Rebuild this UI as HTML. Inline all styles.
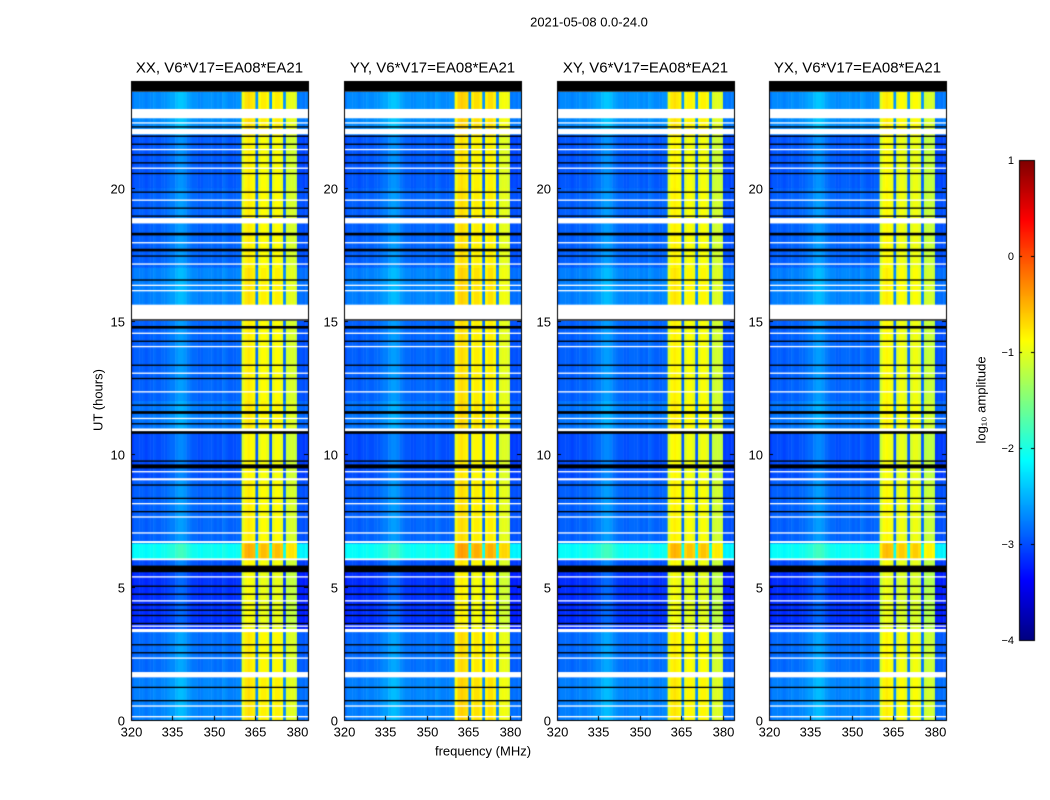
<!DOCTYPE html>
<html><head><meta charset="utf-8">
<style>
html,body{margin:0;padding:0;background:#fff;}
body{width:1050px;height:800px;position:relative;overflow:hidden;font-family:"Liberation Sans",sans-serif;}
canvas{position:absolute;left:0;top:0;}
.t{position:absolute;color:#000;white-space:nowrap;}
</style></head>
<body>
<canvas id="cv" width="1050" height="800"></canvas>
<div id="labels"></div>
<script>
// ---- data ----
const panelTitles = ["XX, V6*V17=EA08*EA21","YY, V6*V17=EA08*EA21","XY, V6*V17=EA08*EA21","YX, V6*V17=EA08*EA21"];
const panelOffsets = [0, 0.05, -0.02, -0.05];
const xTicks = [320,335,350,365,380];
const yTicks = [0,5,10,15,20];
const cbTicks = [1,0,-1,-2,-3,-4];
// log10 amplitude per 1-MHz channel, 320..383
const chanLevels = [
 -2.95,-2.85,-2.85,-2.85,-2.85,-2.9,-2.85,-2.85,-2.8,-2.85,
 -2.85,-2.8,-2.8,-2.75,-2.7,-2.7,-2.6,-2.55,-2.55,-2.6,
 -2.7,-2.75,-2.8,-2.8,-2.85,-2.85,-2.8,-2.8,-2.8,-2.8,
 -2.85,-2.8,-2.85,-2.75,-2.8,-2.85,-2.85,-2.85,-2.8,-2.8,
 -1.0,-0.8,-0.75,-0.8,-0.85,-2.8,-0.95,-0.85,-0.85,-0.95,
 -2.8,-0.95,-0.85,-0.85,-0.95,-2.8,-1.1,-1.05,-1.05,-1.1,
 -2.95,-2.9,-2.95,-2.9
];
// time segments [start h, end h, level offset]
const timeSegments = [
 [0,1.6,0.1],[1.6,3.4,0],[3.4,5.7,-0.3],[5.7,6.05,-0.15],[6.05,6.65,0.75],
 [6.65,9.0,-0.05],[9.0,10.8,-0.15],[10.8,12.0,0.05],[12.0,15.0,-0.05],
 [15.3,17.0,0.1],[17.0,20.0,-0.05],[20.0,22.0,-0.1],[22.0,23.6,0.15]
];
// flagged (white) intervals [start h, end h]
const whiteFlags = [
 [0.1,0.15],[0.5,0.55],[1.6,1.8],[2.3,2.35],[3.3,3.42],[3.5,3.55],[4.45,4.5],[5.35,5.4],
 [6.0,6.07],[6.65,6.72],[7.0,7.05],[7.6,7.65],[8.1,8.15],[9.0,9.08],[9.3,9.35],
 [10.85,10.95],[11.3,11.35],[12.3,12.35],[13.0,13.05],[14.0,14.05],[14.5,14.55],
 [15.25,15.6],[16.1,16.15],[16.3,16.35],[17.1,17.15],[17.9,17.95],[18.65,18.85],
 [19.5,19.55],[20.7,20.75],[21.4,21.45],[22.0,22.2],[22.4,22.45],[22.6,22.95]
];
// dark (black / zero) time samples [start h, end h]
const blackFlags = [
 [0.7,0.75],[1.2,1.25],[2.5,2.55],[2.8,2.85],[3.6,3.65],[3.9,3.95],[4.1,4.15],[4.3,4.35],
 [4.7,4.75],[5.0,5.05],[5.55,5.8],[7.8,7.85],[8.3,8.35],[8.8,8.85],[9.45,9.6],[9.7,9.75],
 [10.75,10.85],[11.1,11.15],[11.5,11.6],[11.8,11.85],[12.8,12.85],[13.3,13.35],
 [14.2,14.25],[14.7,14.8],[15.0,15.05],[16.5,16.55],[17.4,17.45],[17.6,17.7],[18.2,18.3],
 [18.9,18.95],[19.2,19.25],[19.8,19.85],[20.5,20.55],[20.9,20.95],[21.2,21.25],
 [21.6,21.65],[21.9,21.95],[22.25,22.3],[23.6,24.0]
];
// ---- layout ----
const panelLeft = [131,344,557,769];
const pw = 177, top0 = 81, bot0 = 720;
const fMin = 320, fMax = 384, tMax = 24;
function xs(p,f){return panelLeft[p] + (f-fMin)/(fMax-fMin)*pw;}
function ys(t){return bot0 - t/tMax*(bot0-top0);}
function jet(v){
  const c=x=>Math.max(0,Math.min(1,x));
  const r=c(1.5-Math.abs(4*v-3)), g=c(1.5-Math.abs(4*v-2)), b=c(1.5-Math.abs(4*v-1));
  return `rgb(${Math.round(r*255)},${Math.round(g*255)},${Math.round(b*255)})`;
}
function col(l){return jet(Math.max(0,Math.min(1,(l+4)/5)));}
const cv=document.getElementById('cv'), ctx=cv.getContext('2d');
ctx.fillStyle='#fff';ctx.fillRect(0,0,1050,800);
const lab=document.getElementById('labels');
function txt(s,x,y,size,name,align,rot){
  const d=document.createElement('div');
  d.className='t';d.textContent=s;d.style.fontSize=size+'px';
  
  
  let tf = align==='c'?'translate(-50%,-50%)':align==='r'?'translate(-100%,-50%)':'translate(0,-50%)';
  if(rot) tf += ' rotate(-90deg)';
  d.style.left=x+'px';d.style.top=y+'px';d.style.transform=tf;
  lab.appendChild(d);
}
for(let p=0;p<4;p++){
  const off=panelOffsets[p];
  timeSegments.forEach(s=>{
    for(let i=0;i<chanLevels.length;i++){
      const f=fMin+i;
      const band = chanLevels[i] > -1.5;
      const lv = chanLevels[i] + (band? off*1.5 + s[2]*0.4 : s[2]);
      ctx.fillStyle=col(lv);
      const x0=xs(p,f), x1=xs(p,f+1);
      ctx.fillRect(x0, ys(s[1]), x1-x0+0.5, ys(s[0])-ys(s[1])+0.5);
    }
  });
  ctx.fillStyle='#000';
  blackFlags.forEach(b=>{ctx.fillRect(panelLeft[p], ys(b[1]), pw, Math.max(1.2, ys(b[0])-ys(b[1])));});
  ctx.fillStyle='#fff';
  whiteFlags.forEach(w=>{ctx.fillRect(panelLeft[p], ys(w[1]), pw, Math.max(1.2, ys(w[0])-ys(w[1])));});
  ctx.strokeStyle='#000';ctx.lineWidth=1;
  ctx.strokeRect(panelLeft[p]+0.5, top0+0.5, pw, bot0-top0);
  xTicks.forEach(t=>{
    const x=Math.round(xs(p,t))+0.5;
    ctx.beginPath();ctx.moveTo(x,bot0);ctx.lineTo(x,bot0-4);ctx.moveTo(x,top0);ctx.lineTo(x,top0+4);ctx.stroke();
    txt(String(t), x, 732, 13, 'x-tick-label', 'c');
  });
  yTicks.forEach(t=>{
    const y=Math.round(ys(t))+0.5;
    ctx.beginPath();ctx.moveTo(panelLeft[p],y);ctx.lineTo(panelLeft[p]+4,y);
    ctx.moveTo(panelLeft[p]+pw,y);ctx.lineTo(panelLeft[p]+pw-4,y);ctx.stroke();
    txt(String(t), panelLeft[p]-6, y, 13, 'y-tick-label', 'r');
  });
  txt(panelTitles[p], panelLeft[p]+pw/2, 68, 15, 'panel-title', 'c');
}
// colorbar
const cbX=1019, cbW=15, cbT=160, cbB=640;
for(let y=cbT;y<cbB;y++){
  const v=1-(y-cbT)/(cbB-cbT);
  ctx.fillStyle=jet(v);ctx.fillRect(cbX,y,cbW,1);
}
ctx.strokeStyle='#000';ctx.strokeRect(cbX+0.5,cbT+0.5,cbW,cbB-cbT);
cbTicks.forEach(t=>{
  const y=Math.round(cbB-(t+4)/5*(cbB-cbT))+0.5;
  ctx.beginPath();ctx.moveTo(cbX,y);ctx.lineTo(cbX+3,y);ctx.moveTo(cbX+cbW,y);ctx.lineTo(cbX+cbW-3,y);ctx.stroke();
  txt(t<0?'\u2212'+(-t):String(t), 1014, y, 11, 'colorbar-tick-label', 'r');
});
txt('2021-05-08 0.0-24.0', 589, 22, 13, 'figure-title', 'c');
txt('frequency (MHz)', 483, 751, 13, 'x-axis-title', 'c');
txt('UT (hours)', 98, 400, 13, 'y-axis-title', 'c', true);
txt('log\u2081\u2080 amplitude', 981, 400, 13, 'colorbar-title', 'c', true);
</script>
</body></html>
